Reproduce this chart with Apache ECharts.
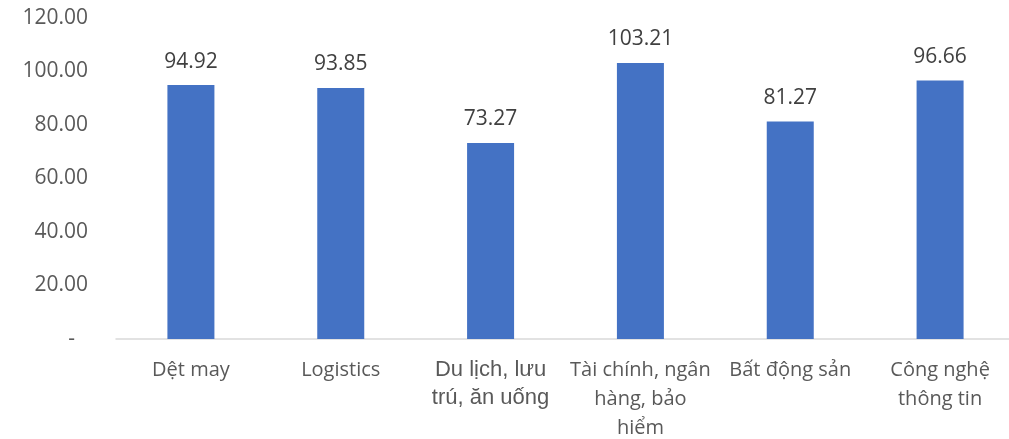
<!DOCTYPE html>
<html>
<head>
<meta charset="utf-8">
<script src="https://cdn.jsdelivr.net/npm/echarts@6/dist/echarts.min.js"></script>
<style>
  html, body { margin: 0; padding: 0; background: #fff; }
  #chart { width: 1009px; height: 439px; }
</style>
</head>
<body>
<div id="chart"></div>
<script>
// dữ liệu
const categories = ['Dệt may', 'Logistics', 'Du lịch, lưu\ntrú, ăn uống', 'Tài chính, ngân\nhàng, bảo\nhiểm', 'Bất động sản', 'Công nghệ\nthông tin'];
const values = [94.92, 93.85, 73.27, 103.21, 81.27, 96.66];
const yTicks = [0, 20, 40, 60, 80, 100, 120];

const chart = echarts.init(document.getElementById('chart'));
const font = '"Open Sans", sans-serif';

const option = {
  animation: false,
  grid: { left: 116, right: -6, top: 18, bottom: 100, containLabel: false, outerBoundsMode: 'none' },
  xAxis: {
    type: 'category',
    data: categories,
    axisLine: { lineStyle: { color: '#D9D9D9', width: 1.5 } },
    axisTick: { show: false },
    axisLabel: {
      interval: 0,
      margin: 17,
      color: '#595959',
      fontFamily: font,
      fontSize: 20,
      lineHeight: 29,
      formatter: (v, i) => i === 2 ? '{big|' + v.split('\n').join('}\n{big|') + '}' : v,
      rich: {
        big: { fontSize: 22, lineHeight: 28, color: '#595959', fontFamily: '"Liberation Sans", Arial, sans-serif' }
      }
    }
  },
  yAxis: {
    type: 'value',
    min: yTicks[0],
    max: yTicks[yTicks.length - 1],
    interval: 20,
    splitLine: { show: false },
    axisLine: { show: false },
    axisTick: { show: false },
    axisLabel: {
      margin: 28,
      color: '#595959',
      fontFamily: font,
      fontSize: 21,
      formatter: v => v === 0 ? '{dash|-}' : v.toFixed(2),
      rich: {
        dash: { padding: [0, 13, 0, 0], color: '#595959', fontFamily: font, fontSize: 21 }
      }
    }
  },
  series: [{
    type: 'bar',
    data: values,
    barWidth: 47,
    itemStyle: { color: '#4472C4' },
    label: {
      show: true,
      position: 'top',
      distance: 13,
      color: '#404040',
      fontFamily: font,
      fontSize: 21,
      formatter: p => p.value.toFixed(2)
    }
  }]
};

chart.setOption(option);
</script>
</body>
</html>
